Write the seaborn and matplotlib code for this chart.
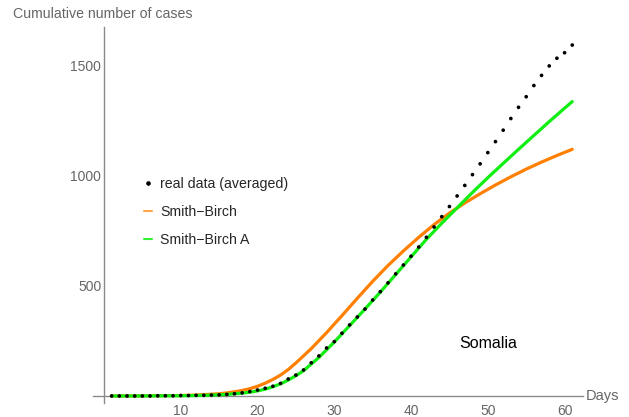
import numpy as np
import pandas as pd
import matplotlib
matplotlib.use("Agg")
import matplotlib.pyplot as plt
import matplotlib.transforms as mtransforms
from matplotlib.lines import Line2D
from matplotlib.ticker import MultipleLocator
import seaborn as sns

# ---- data ----
data_days = list(range(1, 62))
data_cases = [0, 0, 0, 0, 0, 0, 1, 1, 1, 2, 2, 3, 3, 4, 5, 7, 10, 14, 20, 27,
              35, 44, 57, 77, 95, 118, 151, 182, 218, 247, 285, 323, 359, 395, 436,
              474, 514, 555, 595, 635, 677, 721, 768, 815, 861, 909, 957, 1006, 1055,
              1106, 1156, 1208, 1261, 1312, 1360, 1411, 1457, 1500, 1535, 1560, 1595]

sb_days = [1, 5, 10, 12, 14, 15, 16, 17, 18, 19, 20, 21, 22, 23, 24, 25, 27, 29, 31,
           33, 35, 37, 39, 41, 43, 45, 47, 49, 51, 53, 55, 57, 59, 61]
sb_vals = [0, 0.5, 2, 4, 8, 10, 14, 19, 25, 33, 44, 58, 75, 95, 120, 150, 215, 288, 365,
           444, 521, 593, 659, 721, 779, 831, 877, 919, 959, 996, 1031, 1063, 1093, 1121]

sba_days = [1, 5, 10, 12, 14, 16, 18, 19, 20, 21, 22, 23, 24, 25, 26, 28, 30, 32, 34,
            36, 38, 40, 42, 44, 46, 48, 50, 52, 54, 56, 58, 60, 61]
sba_vals = [0, 0.3, 1, 2, 4, 7, 13, 17, 23, 31, 42, 55, 72, 92, 115, 175, 245, 320, 395,
            472, 552, 632, 712, 785, 855, 925, 992, 1057, 1121, 1184, 1247, 1308, 1338]

x_ticks = [10, 20, 30, 40, 50, 60]
y_ticks = [500, 1000, 1500]
labels = ["real data (averaged)", "Smith\u2212Birch", "Smith\u2212Birch A"]

ORANGE = "#FF8000"
GREEN = "#11EE11"

sns.set_style("white")
plt.rcParams["font.family"] = ["Liberation Sans", "DejaVu Sans"]

fig = plt.figure(figsize=(6.29, 4.17), dpi=100)
ax = fig.add_axes([93 / 629, 14 / 417, 490 / 629, 376 / 417])

df_data = pd.DataFrame({"day": data_days, "cases": data_cases})
df_sb = pd.DataFrame({"day": sb_days, "cases": sb_vals})
df_sba = pd.DataFrame({"day": sba_days, "cases": sba_vals})

sns.lineplot(data=df_sb, x="day", y="cases", ax=ax, color=ORANGE, lw=2.3,
             estimator=None, sort=True, zorder=2)
sns.lineplot(data=df_sba, x="day", y="cases", ax=ax, color=GREEN, lw=2.3,
             estimator=None, sort=True, zorder=3)
sns.scatterplot(data=df_data, x="day", y="cases", ax=ax, color="black", s=7,
                edgecolor="none", zorder=4)

ax.set_xlim(-1.43, 62.4)
ax.set_ylim(-32, 1677)

# Mathematica-style axes crossing at the origin
for s in ["top", "right"]:
    ax.spines[s].set_visible(False)
ax.spines["left"].set_position(("data", 0))
ax.spines["bottom"].set_position(("data", 0))
for s in ["left", "bottom"]:
    ax.spines[s].set_color("#8a8a8a")
    ax.spines[s].set_linewidth(1.0)

ax.set_xticks(x_ticks)
ax.set_yticks(y_ticks)
ax.xaxis.set_minor_locator(MultipleLocator(2))
ax.yaxis.set_minor_locator(MultipleLocator(100))
ax.tick_params(axis="both", which="major", direction="in", length=4, width=0.8,
               color="#8a8a8a", labelcolor="#666666", labelsize=10)
ax.tick_params(axis="both", which="minor", direction="in", length=2, width=0.6,
               color="#8a8a8a")
ax.tick_params(axis="x", pad=6)
ax.tick_params(axis="y", pad=2)
ax.set_xlabel("")
ax.set_ylabel("")

# axis labels
trans = mtransforms.blended_transform_factory(ax.transAxes, ax.transData)
ax.text(1.006, 0, "Days", transform=trans, ha="left", va="center",
        fontsize=10.5, color="#666666")
fig.text(13 / 629, 1 - 14 / 417, "Cumulative number of cases", ha="left",
         va="center", fontsize=10.2, color="#666666")

ax.text(50, 240, "Somalia", ha="center", va="center", fontsize=11.5, color="black")

handles = [
    Line2D([], [], marker="o", color="black", linestyle="none", markersize=2.3),
    Line2D([], [], color="#FFA64D", lw=1.5),
    Line2D([], [], color="#33F033", lw=1.5),
]
ax.legend(handles, labels, loc="upper left",
          bbox_to_anchor=(144 / 629, 1 - 177 / 417), bbox_transform=fig.transFigure,
          frameon=False, fontsize=10.2, handlelength=0.55, handletextpad=0.6,
          labelspacing=1.0, borderpad=0, borderaxespad=0)

fig.savefig("out.png", dpi=100)
